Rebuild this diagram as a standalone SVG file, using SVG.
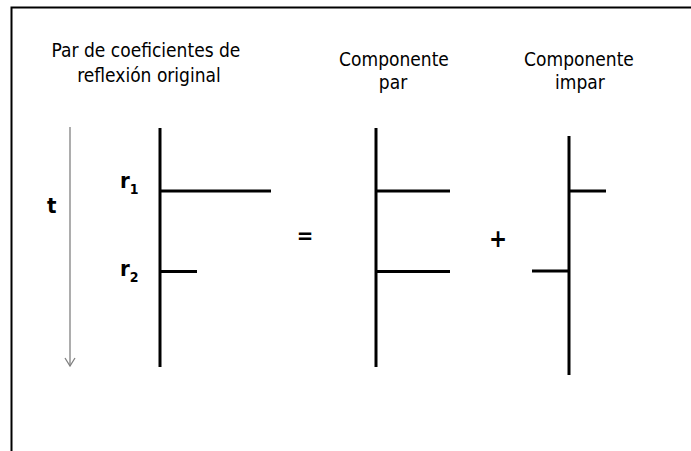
<svg xmlns="http://www.w3.org/2000/svg" width="691" height="451" viewBox="0 0 691 451">
  <style>
    .cap { font-family: "DejaVu Sans Condensed", "DejaVu Sans", sans-serif; font-size: 19px; fill: #000; text-anchor: middle; }
    .sym { font-family: "DejaVu Sans Condensed", "DejaVu Sans", sans-serif; font-weight: bold; fill: #000; }
    .bar { stroke: #000; stroke-width: 3; fill: none; }
  </style>
  <defs>
    <marker id="openHead" viewBox="0 0 10 12" refX="9" refY="6" markerWidth="10" markerHeight="12" markerUnits="userSpaceOnUse" orient="auto">
      <path d="M1,1 L9,6 L1,11" fill="none" stroke="#808080" stroke-width="1.3"/>
    </marker>
  </defs>

  <rect width="691" height="451" fill="#fff"/>

  <!-- outer frame (open at right and bottom) -->
  <path d="M11.5,451 V7.5 H691" fill="none" stroke="#000" stroke-width="2"/>

  <!-- column captions -->
  <g id="caption-original">
    <text class="cap" x="146" y="57">Par de coeficientes de</text>
    <text class="cap" x="149" y="82">reflexión original</text>
  </g>
  <g id="caption-par">
    <text class="cap" x="394" y="66">Componente</text>
    <text class="cap" x="393" y="89">par</text>
  </g>
  <g id="caption-impar">
    <text class="cap" x="579" y="66">Componente</text>
    <text class="cap" x="580" y="89">impar</text>
  </g>

  <!-- time axis -->
  <g id="time-axis">
    <line x1="70" y1="127" x2="70" y2="366" stroke="#808080" stroke-width="1.3" marker-end="url(#openHead)"/>
    <text class="sym" x="47" y="213" font-size="22">t</text>
  </g>

  <!-- original pair of reflection coefficients -->
  <g id="original">
    <line class="bar" x1="160" y1="128" x2="160" y2="367"/>
    <line class="bar" x1="160" y1="191" x2="271" y2="191"/>
    <line class="bar" x1="160" y1="271.5" x2="197" y2="271.5"/>
    <text class="sym" x="120" y="188" font-size="22">r<tspan font-size="14" dy="6">1</tspan></text>
    <text class="sym" x="120" y="276" font-size="22">r<tspan font-size="14" dy="6">2</tspan></text>
  </g>

  <g id="equals">
    <text class="sym" x="305" y="243" font-size="22" text-anchor="middle">=</text>
  </g>

  <!-- even component -->
  <g id="even">
    <line class="bar" x1="376" y1="128" x2="376" y2="367"/>
    <line class="bar" x1="376" y1="191" x2="450" y2="191"/>
    <line class="bar" x1="376" y1="271.5" x2="450" y2="271.5"/>
  </g>

  <g id="plus">
    <text class="sym" x="498" y="247" font-size="24" text-anchor="middle">+</text>
  </g>

  <!-- odd component -->
  <g id="odd">
    <line class="bar" x1="569" y1="136" x2="569" y2="375"/>
    <line class="bar" x1="569" y1="191" x2="606" y2="191"/>
    <line class="bar" x1="532" y1="271" x2="569" y2="271"/>
  </g>

  <g id="connectors"/>
</svg>
